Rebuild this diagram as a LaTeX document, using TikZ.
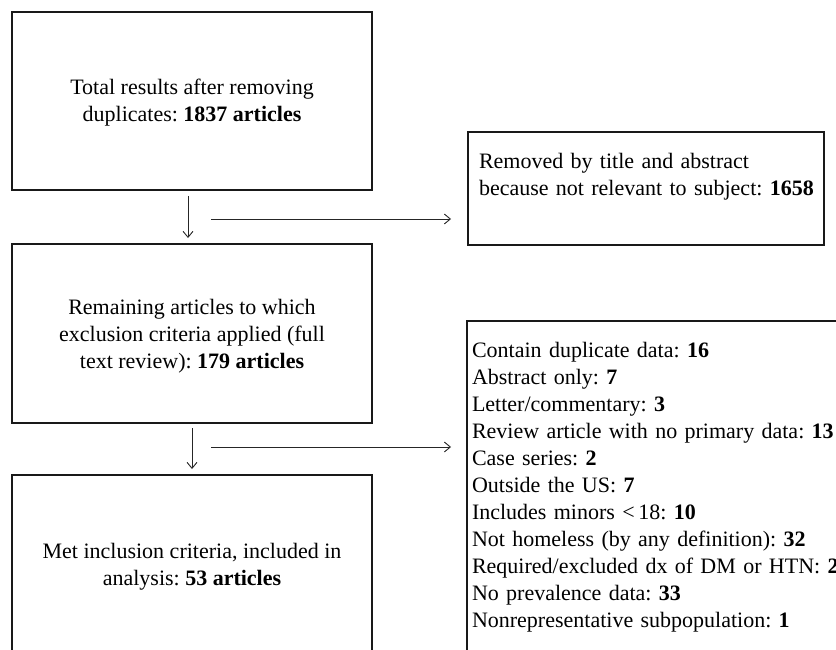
\documentclass[tikz,border=0pt]{standalone}
\usepackage{fontspec}
\setmainfont{Liberation Serif}
\usetikzlibrary{arrows.meta}
\newcommand\ls{\rule[-6pt]{0pt}{27pt}}
\frenchspacing
\begin{document}
\frenchspacing
\begin{tikzpicture}[x=1pt,y=-1pt,
  box/.style={draw=black!90, line width=2pt, rectangle, inner sep=0pt,
    font=\fontsize{22}{27}\selectfont\frenchspacing},
  cbox/.style={box, minimum width=360pt, minimum height=178pt, align=center},
  lbox/.style={box, anchor=north west, align=left},
  conn/.style={draw=black!85, line width=0.9pt,
    -{Straight Barb[length=6pt,width=10pt]}},
]
\useasboundingbox (0,0) rectangle (836,650);
\clip (0,0) rectangle (836,650);

\node[cbox] (total) at (192,101)
  {\ls Total results after removing\\\ls duplicates: \textbf{1837 articles}};
\node[cbox, minimum height=179pt] (remain) at (192,333.5)
  {\ls Remaining articles to which\\\ls exclusion criteria applied (full\\\ls text review): \textbf{179 articles}};
\node[cbox] (met) at (192,564)
  {\ls Met inclusion criteria, included in\\\ls analysis: \textbf{53 articles}};

\node[lbox, minimum width=356pt, text width=334pt, inner xsep=11pt, inner ysep=16pt] (removed) at (467,131)
  {\ls\mbox{Removed by title and abstract}\\\ls\mbox{because not relevant to subject: \textbf{1658}}\\\ls};

\node[lbox, minimum width=480pt, text width=470pt, inner xsep=5pt, inner ysep=15pt] (excl) at (466,320)
  {\ls Contain duplicate data: \textbf{16}\\
   \ls Abstract only: \textbf{7}\\
   \ls Letter/commentary: \textbf{3}\\
   \ls Review article with no primary data: \textbf{13}\\
   \ls Case series: \textbf{2}\\
   \ls Outside the US: \textbf{7}\\
   \ls Includes minors <\,18: \textbf{10}\\
   \ls Not homeless (by any definition): \textbf{32}\\
   \ls Required/excluded dx of DM or HTN: \textbf{2}\\
   \ls No prevalence data: \textbf{33}\\
   \ls Nonrepresentative subpopulation: \textbf{1}\\
   \ls};

\draw[conn, shorten <=5pt, shorten >=5pt] ([xshift=-4pt]total.south) -- ([xshift=-4pt]remain.north);
\draw[conn, shorten <=4pt, shorten >=5pt] (remain.south) -- (met.north);

\coordinate (h1) at (211,219);
\coordinate (h2) at (211,447);
\draw[conn, shorten >=16pt] (h1) -- (h1 -| removed.west);
\draw[conn, shorten >=15pt] (h2) -- (h2 -| excl.west);
\end{tikzpicture}
\end{document}
